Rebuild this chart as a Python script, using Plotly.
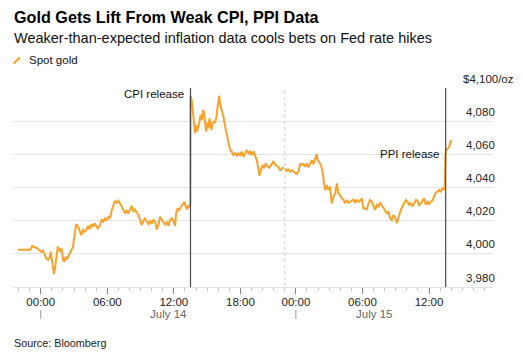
import pandas as pd
import plotly.graph_objects as go

# ---------------- data ----------------
# hours since 2025-07-14 00:00 (London time); market break 22:00-23:00 on July 14
hours = [
    -2.05, -0.94, -0.76, -0.63, -0.39, -0.15, 0.06, 0.21, 0.36, 0.51, 0.66, 0.81, 0.90, 1.02,
    1.11, 1.20, 1.29, 1.41, 1.53, 1.65, 1.77, 1.89, 2.01, 2.13, 2.25, 2.37, 2.46, 2.61, 2.76,
    2.91, 3.06, 3.21, 3.36, 3.51, 3.66, 3.81, 3.96, 4.11, 4.26, 4.41, 4.57, 4.72, 4.87,
    5.14, 5.35, 5.50, 5.65, 5.80, 5.95, 6.10, 6.25, 6.40, 6.55, 6.70, 6.85, 7.00, 7.15, 7.30,
    7.45, 7.60, 7.75, 7.90, 8.05, 8.20, 8.35, 8.50, 8.65, 8.80, 8.95, 9.10, 9.25, 9.40, 9.56,
    9.71, 9.86, 10.01, 10.16, 10.31, 10.46, 10.61, 10.76, 10.91, 11.06, 11.21, 11.36, 11.51,
    11.66, 11.81, 11.96, 12.11, 12.20, 12.35, 12.47, 12.65, 12.80, 12.95, 13.07, 13.19, 13.31,
    13.43, 13.48, 13.50,
    13.52, 13.61, 13.70, 13.82, 13.91, 14.00, 14.09, 14.21, 14.33, 14.42, 14.51, 14.64, 14.73,
    14.82, 14.91, 15.03, 15.12, 15.21, 15.30, 15.39, 15.48, 15.60, 15.72, 15.84, 15.96, 16.08,
    16.20, 16.32, 16.47, 16.62, 16.77, 16.92, 17.07, 17.22, 17.37, 17.52, 17.67, 17.82, 17.97,
    18.12, 18.27, 18.42, 18.57, 18.72, 18.87, 19.02, 19.17, 19.32, 19.47, 19.62, 19.71, 19.84,
    19.99, 20.14, 20.29, 20.44, 20.59, 20.77, 20.95, 21.13, 21.28, 21.43, 21.58, 21.73, 21.88,
    22.00,
    23.03, 23.18, 23.33, 23.48, 23.63, 23.78, 23.93, 24.08, 24.23, 24.38, 24.53, 24.68, 24.83,
    24.98, 25.13, 25.28, 25.43, 25.58, 25.73, 25.88, 25.97, 26.09, 26.27, 26.42, 26.54, 26.63,
    26.78, 26.93, 27.08, 27.23, 27.39, 27.54, 27.69, 27.84, 27.99, 28.14, 28.29, 28.44, 28.59,
    28.74, 28.89, 29.04, 29.19, 29.34, 29.49, 29.64, 29.79, 29.94, 30.09,
    30.24, 30.39, 30.54, 30.69, 30.84, 30.99, 31.14, 31.29, 31.44, 31.59, 31.74, 31.89, 32.04,
    32.19, 32.34, 32.49, 32.64, 32.79, 32.94, 33.10, 33.19, 33.31, 33.46, 33.61, 33.76, 33.91,
    34.06, 34.21, 34.36, 34.51, 34.66, 34.81, 34.96, 35.11, 35.26, 35.41, 35.56, 35.71, 35.86,
    36.01, 36.16, 36.31, 36.46, 36.61, 36.76, 36.91, 37.06, 37.21, 37.33, 37.42, 37.48, 37.57,
    37.69, 37.81, 37.90, 38.02,
]
spot_gold = [
    4002.5, 4002.5, 4004.7, 4004.3, 4003.7, 4002.3, 4001.3, 4001.9, 3999.3, 3997.3, 3996.3,
    3997.9, 4001.3, 3996.3, 3992.2, 3987.8, 3991.2, 3998.3, 4004.3, 4002.7, 4001.3, 4003.3,
    3996.3, 3995.3, 3998.3, 3996.7, 3997.9, 3999.3, 4002.3, 4004.3, 4012.3, 4018.0, 4016.4,
    4013.3, 4011.3, 4014.4, 4013.3, 4014.4, 4016.8, 4014.8, 4018.0, 4016.4, 4018.4,
    4015.2, 4017.4, 4020.8, 4019.4, 4021.4, 4020.0, 4022.4, 4021.4, 4026.4, 4029.4, 4032.0,
    4030.8, 4032.0, 4030.4, 4028.4, 4025.4, 4024.4, 4026.0, 4024.4, 4026.8, 4028.8, 4025.4,
    4026.8, 4024.8, 4023.4, 4020.4, 4017.4, 4020.0, 4021.4, 4019.4, 4018.0, 4020.0, 4018.0,
    4020.4, 4019.4, 4014.8, 4017.4, 4022.4, 4020.4, 4018.8, 4017.4, 4019.4, 4016.8, 4020.4,
    4021.4, 4020.0, 4016.8, 4024.4, 4027.4, 4026.4, 4028.4, 4029.4, 4031.4, 4028.4, 4026.8,
    4029.4, 4028.0, 4030.0, 4095.0,
    4094.8, 4092.8, 4086.7, 4075.7, 4072.7, 4077.7, 4073.7, 4076.7, 4081.7, 4083.7, 4080.7,
    4086.7, 4084.7, 4077.7, 4073.7, 4079.3, 4075.7, 4081.7, 4076.7, 4074.7, 4078.7, 4079.7,
    4079.3, 4082.7, 4089.7, 4095.4, 4089.3, 4086.7, 4082.7, 4076.7, 4071.7, 4066.6, 4062.6,
    4061.6, 4059.6, 4060.6, 4059.2, 4060.6, 4059.6, 4061.6, 4058.6, 4060.6, 4062.6, 4060.6,
    4062.0, 4059.6, 4062.0, 4059.2, 4056.6, 4051.6, 4047.1, 4050.5, 4053.6, 4051.6, 4054.6,
    4052.6, 4052.0, 4053.6, 4055.6, 4054.0, 4052.9, 4052.5, 4050.5, 4050.9, 4052.5, 4052.5,
    4051.5, 4050.1, 4050.9, 4049.5, 4050.5, 4049.5, 4048.9, 4048.1, 4049.5, 4054.5, 4053.5,
    4054.1, 4052.9, 4054.5, 4052.1, 4054.9, 4056.5, 4054.1, 4057.5, 4060.2, 4056.5, 4055.5,
    4053.5, 4048.5, 4040.5, 4038.4, 4041.5, 4038.4, 4040.5, 4030.4, 4034.4, 4036.4, 4042.5,
    4036.4, 4035.4, 4033.4, 4032.8, 4030.4, 4032.4, 4030.8, 4031.4, 4032.4, 4032.8, 4030.8,
    4032.4, 4031.4, 4032.0, 4033.4, 4027.4,
    4027.5, 4026.5, 4030.5, 4032.5, 4031.5, 4028.5, 4026.5, 4029.5, 4028.5, 4030.9, 4029.5,
    4028.1, 4026.1, 4024.5, 4025.5, 4021.4, 4020.4, 4023.4, 4022.0, 4018.4, 4020.4, 4024.5,
    4026.5, 4028.5, 4030.5, 4032.5, 4031.5, 4029.5, 4030.5, 4028.9, 4030.1, 4032.5, 4032.1,
    4029.5, 4030.5, 4032.5, 4033.5, 4029.5, 4031.5, 4030.1, 4031.5, 4032.1, 4034.5, 4036.9,
    4037.5, 4038.5, 4037.5, 4039.5, 4038.9, 4040.5, 4059.6, 4062.6, 4063.6, 4064.2, 4066.7,
    4068.7,
]

base_time = "2025-07-14 00:00"
x_range = ["2025-07-13 21:30", "2025-07-15 17:46"]
market_break = ["2025-07-14 22:00", "2025-07-14 23:00"]

y_ticks = [3980, 4000, 4020, 4040, 4060, 4080, 4100]
y_tick_text = ["3,980", "4,000", "4,020", "4,040", "4,060", "4,080", "$4,100/oz"]

x_ticks = ["2025-07-14 00:00", "2025-07-14 06:00", "2025-07-14 12:00", "2025-07-14 18:00",
           "2025-07-15 00:00", "2025-07-15 06:00", "2025-07-15 12:00"]
x_tick_text = ["00:00", "06:00", "12:00", "18:00", "00:00", "06:00", "12:00"]
day_starts = ["2025-07-14 00:00", "2025-07-15 00:00"]
day_labels = ["July 14", "July 15"]
day_label_at = ["2025-07-14 11:30", "2025-07-15 07:00"]

events = ["CPI release", "PPI release"]
event_times = ["2025-07-14 13:30", "2025-07-15 13:30"]
event_label_y = [4096.4, 4060.2]

title = "Gold Gets Lift From Weak CPI, PPI Data"
subtitle = "Weaker-than-expected inflation data cools bets on Fed rate hikes"
series_name = "Spot gold"
source = "Source: Bloomberg"

# ---------------- figure ----------------
W, H = 523, 360
ML, MR, MT, MB = 13, 30, 88, 73
PW, PH = W - ML - MR, H - MT - MB


def px(xp):
    return (xp - ML) / PW


def py(yp):
    return (H - MB - yp) / PH


FONT = "Liberation Sans, Arial, sans-serif"
ORANGE = "#f9a12a"

times = pd.Timestamp(base_time) + pd.to_timedelta(hours, unit="h")

fig = go.Figure()
fig.add_trace(go.Scatter(x=times, y=spot_gold, mode="lines", name=series_name,
                         line=dict(color=ORANGE, width=2), hoverinfo="skip"))

minor_vals = pd.date_range("2025-07-13 22:00", "2025-07-15 17:00", freq="h")

fig.update_layout(
    width=W, height=H, margin=dict(l=ML, r=MR, t=MT, b=MB),
    paper_bgcolor="white", plot_bgcolor="white", showlegend=False,
    font=dict(family=FONT, size=11.5, color="#222"),
    xaxis=dict(
        type="date", range=x_range, rangebreaks=[dict(bounds=market_break)],
        showgrid=False, zeroline=False, showline=True, linecolor="#e3e3e3", linewidth=1,
        tickmode="array", tickvals=x_ticks, ticktext=x_tick_text,
        ticks="outside", ticklen=6, tickcolor="#8a8a8a", tickwidth=1,
        ticklabelstandoff=-2,
        tickfont=dict(family=FONT, size=11.5, color="#222"),
        minor=dict(tickmode="array", tickvals=list(minor_vals), ticks="outside",
                   ticklen=3, tickcolor="#c8c8c8", tickwidth=1, showgrid=False),
        fixedrange=True,
    ),
    yaxis=dict(
        range=[y_ticks[0], y_ticks[-1]], tickvals=y_ticks, showticklabels=False,
        showgrid=True, gridcolor="#e3e3e3", gridwidth=1, zeroline=False, showline=False,
        ticks="", fixedrange=True,
    ),
)

# y labels (sit above gridlines, near the right edge)
for v, t in zip(y_ticks, y_tick_text):
    is_top = t.startswith("$")
    fig.add_annotation(xref="paper", yref="y", x=px(460.7 if is_top else 464), y=v,
                       text=t, showarrow=False, xanchor="left", yanchor="middle",
                       yshift=9.5, font=dict(size=11.5, color="#222"))

# market-break dashed line
fig.add_shape(type="line", xref="x", yref="paper", x0=market_break[0], x1=market_break[0],
              y0=py(292), y1=1, line=dict(color="#cfcfcf", width=1, dash="3px,3px"))

# event lines and labels
for name, t, ly in zip(events, event_times, event_label_y):
    fig.add_shape(type="line", xref="x", yref="paper", x0=t, x1=t, y0=0, y1=1,
                  line=dict(color="#4a4a4a", width=1.2))
    fig.add_annotation(xref="x", yref="y", x=t, y=ly, text=name, showarrow=False,
                       xanchor="right", yanchor="middle", xshift=-5,
                       font=dict(size=11.5, color="#111"))

# day separators and labels
for d in day_starts:
    fig.add_shape(type="line", xref="x", yref="paper", x0=d, x1=d, y0=py(310), y1=py(319),
                  line=dict(color="#9a9a9a", width=1))
for lab, at in zip(day_labels, day_label_at):
    fig.add_annotation(xref="x", yref="paper", x=at, y=py(314), text=lab, showarrow=False,
                       xanchor="center", yanchor="middle", font=dict(size=11.5, color="#666"))

# titles
fig.add_annotation(xref="paper", yref="paper", x=px(12), y=py(17), text="<b>" + title + "</b>",
                   showarrow=False, xanchor="left", yanchor="middle",
                   font=dict(size=16.2, color="#000"))
fig.add_annotation(xref="paper", yref="paper", x=px(12), y=py(38.5), text=subtitle,
                   showarrow=False, xanchor="left", yanchor="middle",
                   font=dict(size=14.5, color="#111"))

# legend
fig.add_shape(type="line", xref="paper", yref="paper", x0=px(13.8), y0=py(63.5), x1=px(20),
              y1=py(57.3), line=dict(color=ORANGE, width=2))
fig.add_annotation(xref="paper", yref="paper", x=px(27), y=py(59.5), text=series_name,
                   showarrow=False, xanchor="left", yanchor="middle",
                   font=dict(size=11.5, color="#111"))

# source
fig.add_annotation(xref="paper", yref="paper", x=px(12), y=py(342.5), text=source,
                   showarrow=False, xanchor="left", yanchor="middle",
                   font=dict(size=10.8, color="#222"))

fig.write_html("out.html")
